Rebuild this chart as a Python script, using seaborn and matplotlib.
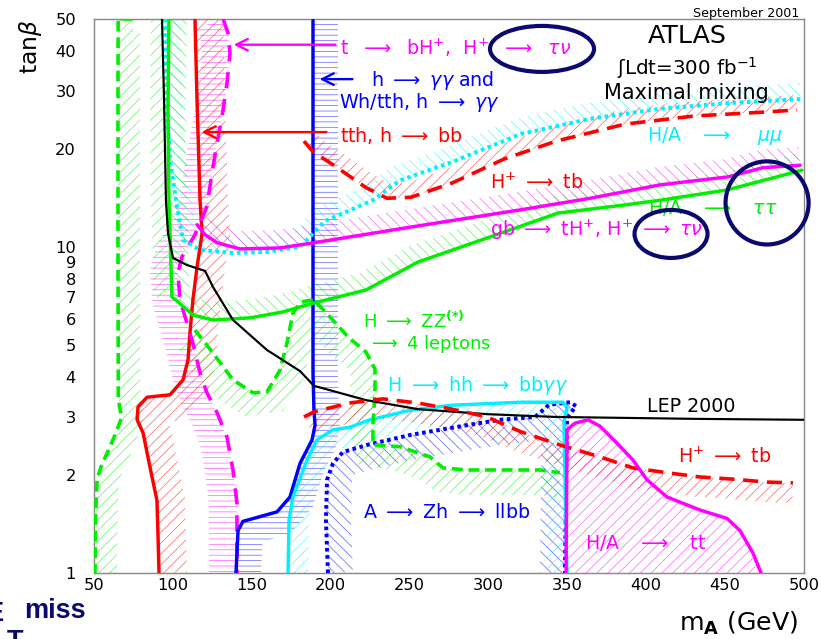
import numpy as np
import matplotlib
matplotlib.use("Agg")
import matplotlib.pyplot as plt
import seaborn as sns
from matplotlib.patches import Polygon, Ellipse
from matplotlib.ticker import FixedLocator, FixedFormatter, NullFormatter

# ---------------- discovery contours (m_A [GeV], tan(beta)) ----------------
# h -> ZZ* -> 4 leptons (low-mass branch)
zz_low_x = [74.7, 65.3, 65.2, 65.2, 65.4, 67.5, 64.0, 60.0, 55.0, 52.0, 51.0, 50.6]
zz_low_y = [50, 50, 30, 10, 3.4, 3.0, 2.7, 2.43, 2.15, 1.95, 1.5, 1.0]

# tth, h -> bb
tth_x = [114.0, 115.3, 117.2, 118.5, 115.3, 112.7, 110.8, 109.6, 106.4, 98.2,
         83.6, 77.9, 77.3, 81.1, 85.5, 89.9, 90.6, 91.2]
tth_y = [50, 28.2, 13.9, 11.0, 8.68, 6.88, 5.45, 4.50, 3.91, 3.52,
         3.46, 3.23, 2.95, 2.69, 2.11, 1.67, 1.29, 1.0]

# t -> bH+, H+ -> tau nu
tbh_x = [131.8, 134.9, 136.2, 134.3, 131.1, 128.0, 124.8, 121.6, 114.0, 105.8, 103.2,
         104.5, 108.9, 112.7, 117.2, 121.6, 128.0, 134.3, 138.1, 140.6, 140.6, 140.6]
tbh_y = [50, 45.3, 39.3, 31.8, 25.0, 20.8, 16.9, 13.3, 10.9, 9.32, 8.32,
         6.88, 5.85, 5.07, 4.11, 3.57, 3.10, 2.61, 2.07, 1.64, 1.29, 1.0]

# h -> gamma gamma and Wh/tth, h -> gamma gamma
hgg_x = [188.8, 188.8, 189.4, 190.1, 188.2, 180.6, 174.2, 166.0, 153.3, 144.4, 141.3, 140.6, 140.0]
hgg_y = [49.5, 4.13, 3.16, 2.84, 2.56, 2.17, 1.71, 1.54, 1.48, 1.44, 1.35, 1.15, 1.0]

# A -> Zh -> llbb
azh_x = [198.3, 197.0, 197.7, 201.5, 207.8, 223.0, 250.3, 286.4, 307.3, 329.5,
         338.4, 351.7, 355.5, 349.8, 348.5]
azh_y = [1.0, 1.45, 1.93, 2.17, 2.35, 2.47, 2.65, 2.84, 2.95, 3.01,
         3.28, 3.34, 3.25, 2.99, 1.0]

# H -> hh -> bb gamma gamma
hhh_x = [173.0, 173.6, 176.1, 185.0, 191.3, 201.5, 212.3, 224.9, 250.9, 276.9,
         320.6, 347.2, 349.8, 347.9, 348.5, 349.8]
hhh_y = [1.0, 1.45, 1.71, 2.22, 2.56, 2.75, 2.80, 2.95, 3.16, 3.27,
         3.34, 3.34, 3.21, 2.91, 1.93, 1.0]

# H -> ZZ(*) -> 4 leptons
hzz_x = [114.0, 125.4, 138.1, 150.8, 159.6, 167.9, 172.3, 176.1, 181.2, 189.4, 200.8,
         211.6, 222.4, 228.1, 228.1, 226.8, 226.8, 243.9, 263.0, 271.2, 286.4, 332.7, 345.3]
hzz_y = [5.56, 4.73, 3.91, 3.57, 3.59, 4.19, 5.07, 6.27, 6.78, 6.88, 6.01,
         5.26, 4.76, 4.22, 3.57, 2.86, 2.47, 2.44, 2.27, 2.10, 2.07, 2.07, 2.03]

# H/A -> mu mu
hmm_x = [95.0, 96.3, 98.2, 102.6, 106.4, 117.2, 138.1, 159.6, 180.6, 196.4,
         226.8, 244.0, 276.9, 320.6, 364.4, 408.1, 451.8, 498.0]
hmm_y = [50, 26.3, 18.5, 13.3, 10.5, 9.79, 9.58, 9.65, 10.0, 12.0,
         13.9, 16.0, 18.2, 22.2, 24.7, 26.5, 27.6, 28.4]

# H+ -> tb (high tan beta)
htb_hi_x = [183.1, 188.8, 202.7, 222.4, 235.7, 250.9, 276.9, 309.9, 342.8, 386.5, 430.3, 474.0, 495.6]
htb_hi_y = [21.1, 19.6, 17.7, 15.2, 14.1, 14.2, 15.7, 18.6, 21.1, 23.8, 25.2, 25.9, 26.3]

# gb -> tH+, H+ -> tau nu
gbh_x = [115.3, 120.4, 128.0, 142.5, 167.9, 189.4, 255.4, 320.6, 364.4, 408.7, 451.8, 474.0, 497.5]
gbh_y = [11.7, 10.9, 10.3, 9.86, 9.93, 10.3, 11.6, 13.0, 14.1, 15.5, 16.4, 17.5, 17.8]

# H/A -> tau tau
htt_x = [97.5, 96.9, 97.5, 98.2, 99.4, 102.6, 112.7, 125.4, 148.9, 169.8, 189.4,
         222.4, 255.4, 299.1, 344.1, 386.5, 408.7, 451.2, 493.0, 498.7]
htt_y = [50, 26.3, 13.9, 11.0, 7.02, 6.83, 6.18, 5.97, 6.06, 6.32, 6.73,
         7.38, 8.99, 10.65, 12.7, 13.45, 13.9, 14.95, 16.9, 17.2]

# LEP 2000 exclusion
lep_x = [93.1, 94.4, 95.6, 96.9, 100.1, 108.9, 120.4, 125.4, 138.1, 159.6, 180.6,
         189.4, 222.4, 255.4, 299.1, 342.8, 386.5, 430.3, 500.0]
lep_y = [50, 28.2, 13.9, 11.0, 9.25, 8.80, 8.44, 7.54, 5.97, 4.83, 4.16,
         3.75, 3.39, 3.18, 3.07, 3.01, 2.99, 2.97, 2.95]

# H+ -> tb (low tan beta)
htb_lo_x = [183.1, 189.4, 211.6, 233.2, 255.4, 276.9, 299.1, 320.6, 345.3, 370.7,
            391.6, 413.2, 434.1, 455.0, 476.6, 493.0]
htb_lo_y = [3.01, 3.12, 3.32, 3.42, 3.32, 3.18, 3.01, 2.71, 2.47, 2.27,
            2.10, 2.03, 1.97, 1.94, 1.90, 1.89]

# H/A -> tt
hatt_x = [349.2, 349.8, 354.8, 363.1, 370.7, 381.5, 391.6, 400.5, 413.2, 434.1,
          451.2, 459.4, 467.7, 472.8]
hatt_y = [1.0, 2.75, 2.88, 2.95, 2.82, 2.50, 2.22, 1.93, 1.71, 1.56,
          1.47, 1.35, 1.15, 1.0]

# axis ticks
x_major = [50, 100, 150, 200, 250, 300, 350, 400, 450, 500]
x_minor = list(range(60, 500, 10))
y_major = [1, 10]
y_minor = [2, 3, 4, 5, 6, 7, 8, 9, 20, 30, 40, 50]

RED = "#ff0000"
MAG = "#ff00ff"
GRN = "#00ee00"
CYA = "#00f0ff"
BLU = "#0000ff"
NAVY = "#0a0a6e"
GREY = "#8a8a8a"

sns.set_theme(style="white")
plt.rcParams["font.family"] = ["DejaVu Sans"]
plt.rcParams["mathtext.fontset"] = "dejavusans"
plt.rcParams["hatch.linewidth"] = 0.4

DPI = 130
fig = plt.figure(figsize=(821 / DPI, 639 / DPI), dpi=DPI)
ax = fig.add_axes([94 / 821, 66 / 639, 710 / 821, 554 / 639])
ax.set_yscale("log")


def curve(xs, ys, color, lw=1.9, ls="-"):
    sns.lineplot(x=xs, y=ys, sort=False, estimator=None, color=color,
                 lw=lw, linestyle=ls, ax=ax, zorder=3)


curve(zz_low_x, zz_low_y, GRN, 2.0, (0, (3.0, 1.6)))
curve(tth_x, tth_y, RED)
curve(tbh_x, tbh_y, MAG, 2.0, (0, (4.5, 3.0)))
curve(hgg_x, hgg_y, BLU)
curve(azh_x, azh_y, BLU, 2.2, (0, (0.9, 0.9)))
curve(hhh_x, hhh_y, CYA)
curve(hzz_x, hzz_y, GRN, 2.0, (0, (3.0, 1.6)))
curve(hmm_x, hmm_y, CYA, 2.2, (0, (0.9, 0.9)))
curve(htb_hi_x, htb_hi_y, RED, 2.0, (0, (4.2, 2.4)))
curve(gbh_x, gbh_y, MAG)
curve(htt_x, htt_y, GRN)
curve(lep_x, lep_y, "black", 1.2)
curve(htb_lo_x, htb_lo_y, RED, 2.0, (0, (4.2, 2.4)))
curve(hatt_x, hatt_y, MAG)

ax.set_xlim(50, 500)
ax.set_ylim(1, 50)
ax.set_xlabel("")
ax.set_ylabel("")


def band(xs, ys, width, side, color, hatch):
    """Hatched strip of given pixel width along one side of a contour."""
    pts = ax.transData.transform(np.column_stack([xs, ys]))
    d = np.gradient(pts, axis=0)
    nrm = np.column_stack([-d[:, 1], d[:, 0]])
    nrm /= np.hypot(nrm[:, 0], nrm[:, 1])[:, None]
    off = pts + side * width * nrm
    poly = ax.transData.inverted().transform(np.vstack([pts, off[::-1]]))
    ax.add_patch(Polygon(poly, closed=True, facecolor="none", edgecolor=color,
                         hatch=hatch, lw=0, zorder=1, alpha=0.6))


D_NE = "////"
D_NW = "\\\\\\\\"
D_H = "----"
band(zz_low_x, zz_low_y, 22, 1, GRN, D_NE)
band(tth_x, tth_y, 28, 1, RED, D_NE)
band(tbh_x, tbh_y, 28, -1, MAG, D_H)
band(hgg_x, hgg_y, 25, 1, BLU, D_H)
band(azh_x, azh_y, 25, -1, BLU, D_NW)
band(hhh_x, hhh_y, 20, -1, CYA, D_NE)
band(hzz_x, hzz_y, 25, -1, GRN, D_NE)
band(hmm_x, hmm_y, 16, 1, CYA, D_NW)
band(htb_hi_x, htb_hi_y, 15, 1, RED, D_NE)
band(gbh_x, gbh_y, 18, 1, MAG, D_NW)
band(htt_x, htt_y, 18, 1, GRN, D_NW)
band(htt_x[:5], htt_y[:5], 18, -1, GRN, D_NE)
band(htb_lo_x, htb_lo_y, 20, -1, RED, D_NE)
ax.add_patch(Polygon(np.column_stack([hatt_x, hatt_y]), closed=True, facecolor="none",
                     edgecolor=MAG, hatch=D_NE, lw=0, zorder=1, alpha=0.6))

# ---------------- axes styling ----------------
ax.xaxis.set_major_locator(FixedLocator(x_major))
ax.xaxis.set_minor_locator(FixedLocator(x_minor))
ax.xaxis.set_minor_formatter(NullFormatter())
ax.xaxis.set_major_formatter(FixedFormatter([str(v) for v in x_major]))
ax.yaxis.set_major_locator(FixedLocator(y_major))
ax.yaxis.set_major_formatter(FixedFormatter([str(v) for v in y_major]))
ax.yaxis.set_minor_locator(FixedLocator(y_minor))
ax.yaxis.set_minor_formatter(FixedFormatter([str(v) for v in y_minor]))

ax.tick_params(axis="both", which="both", direction="in", color=GREY, width=0.7,
               labelsize=9, labelcolor="black", top=False, right=False)
ax.tick_params(axis="x", which="major", length=7.2, pad=3)
ax.tick_params(axis="x", which="minor", length=3.4)
ax.tick_params(axis="y", which="major", length=6.6, pad=10)
ax.tick_params(axis="y", which="minor", length=3.4, pad=10, labelsize=9)
for s in ax.spines.values():
    s.set_color(GREY)
    s.set_linewidth(0.8)

# ---------------- labels and arrows ----------------
ARW = r"$\longrightarrow$"
FS = 10.5


def label(x, y, s, color, fs=FS, **kw):
    ax.text(x, y, s, color=color, fontsize=fs, ha="left", va="center", zorder=5, **kw)


def pointer(x0, y0, x1, y1, color):
    ax.annotate("", xy=(x1, y1), xytext=(x0, y0), zorder=5,
                arrowprops=dict(arrowstyle="->", color=color, lw=1.3, mutation_scale=16))


pointer(205.3, 41.7, 136.2, 41.7, MAG)
label(205.9, 40.8, "t  " + ARW + r"  bH$^{+}$,  H$^{+}$  " + ARW + r"  $\tau\nu$", MAG)
pointer(216.1, 32.7, 190.7, 32.7, BLU)
label(225.6, 32.3, "h " + ARW + r" $\gamma\gamma$ and", BLU)
label(205.3, 27.8, "Wh/tth, h " + ARW + r" $\gamma\gamma$", BLU)
pointer(199.6, 22.5, 115.9, 22.5, RED)
label(205.9, 21.9, "tth, h " + ARW + " bb", RED)

label(400.5, 21.9, "H/A   " + ARW + r"    $\mu\mu$", CYA)
label(301.0, 15.7, r"H$^{+}$ " + ARW + " tb", RED)
label(401.1, 13.2, "H/A   " + ARW + r"   $\tau\tau$", GRN)
label(301.0, 11.3, "gb " + ARW + r" tH$^{+}$, H$^{+}$ " + ARW + r" $\tau\nu$", MAG)
label(220.5, 5.90, "H " + ARW + r" ZZ$^{\mathbf{(*)}}$", GRN, fs=10)
label(223.7, 5.05, ARW + " 4 leptons", GRN, fs=10)
label(235.7, 3.75, "H " + ARW + " hh " + ARW + r" bb$\gamma\gamma$", CYA)
label(400.5, 3.23, "LEP 2000", "black", fs=10.5)
label(220.5, 1.53, "A " + ARW + " Zh " + ARW + " llbb", BLU)
label(420.1, 2.27, r"H$^{+}$ " + ARW + " tb", RED)
label(361.2, 1.24, "H/A   " + ARW + "   tt", MAG)

ax.text(0.835, 0.969, "ATLAS", transform=ax.transAxes, ha="center", va="center",
        fontsize=14, color="black")
ax.text(0.835, 0.911, "\u0283Ldt=300 fb$^{-1}$", transform=ax.transAxes, ha="center",
        va="center", fontsize=11, color="black")
ax.text(0.835, 0.866, "Maximal mixing", transform=ax.transAxes, ha="center",
        va="center", fontsize=11.5, color="black")
fig.text(799 / 821, 1 - 14 / 639, "September 2001", ha="right", va="center",
         fontsize=7, color="black")

# highlight rings
for (cx, cy, w, h) in [(0.631, 0.946, 0.1465, 0.083),
                       (0.8127, 0.612, 0.1028, 0.0866),
                       (0.948, 0.668, 0.117, 0.150)]:
    ax.add_patch(Ellipse((cx, cy), w, h, transform=ax.transAxes, fill=False,
                         edgecolor=NAVY, lw=2.3, clip_on=False, zorder=6))

# axis titles
fig.text(30 / 821, 1 - 47 / 639, r"tan$\beta$", rotation=90, ha="center", va="center",
         fontsize=13, color="black")
fig.text(798 / 821, 1 - 631 / 639, r"m$_{\mathbf{A}}$ (GeV)", ha="right", va="baseline",
         fontsize=14, color="black")

# missing transverse energy tag in the corner
tag = dict(color=NAVY, fontsize=15, fontweight="bold", family=["Liberation Sans", "DejaVu Sans"])
fig.text(3 / 821, 1 - 621 / 639, "E", ha="right", va="baseline", **tag)
fig.text(24 / 821, 1 - 618 / 639, "miss", ha="left", va="baseline", **tag)
fig.text(7 / 821, 1 - 649 / 639, "T", ha="left", va="baseline", **tag)

fig.savefig("out.png", dpi=DPI)
